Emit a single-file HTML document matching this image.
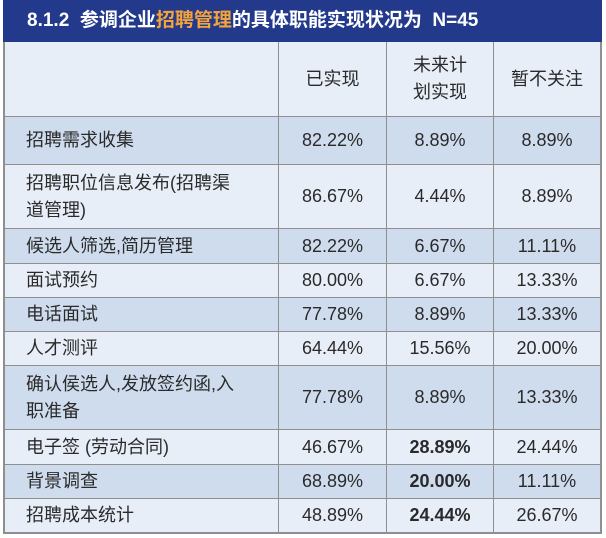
<!DOCTYPE html>
<html><head><meta charset="utf-8"><style>
body{margin:0;width:606px;height:538px;background:#fff;position:relative;overflow:hidden;font-family:"Liberation Sans","Noto Sans CJK SC",sans-serif;color:#2a2a2a}
.t{position:absolute;left:3px;top:0;width:599px;height:42px;background:#233a8c;color:#fff;font-weight:bold;font-size:19px;line-height:42px;box-sizing:border-box;padding-left:24px}
.t span{color:#f4a23a}
.c{position:absolute;box-sizing:border-box;border-right:2px solid #8f8f8f;border-bottom:2px solid #8f8f8f;display:flex;align-items:center;justify-content:center;font-size:18px;line-height:27px;text-align:center}
.l{justify-content:flex-start;text-align:left;padding-left:21px;border-left:2px solid #8f8f8f}
</style></head><body>
<div class="t">8.1.2&nbsp; 参调企业<span>招聘管理</span>的具体职能实现状况为&nbsp; N=45</div>
<div id="g"></div>
<script>
var rows=[["","已实现","未来计<br>划实现","暂不关注",42,117,0],
["招聘需求收集","82.22%","8.89%","8.89%",117,165,1],
["招聘职位信息发布(招聘渠<br>道管理)","86.67%","4.44%","8.89%",165,229,0],
["候选人筛选,简历管理","82.22%","6.67%","11.11%",229,264,1],
["面试预约","80.00%","6.67%","13.33%",264,298,0],
["电话面试","77.78%","8.89%","13.33%",298,332,1],
["人才测评","64.44%","15.56%","20.00%",332,366,0],
["确认侯选人,发放签约函,入<br>职准备","77.78%","8.89%","13.33%",366,430,1],
["电子签 (劳动合同)","46.67%","<b>28.89%</b>","24.44%",430,465,0],
["背景调查","68.89%","<b>20.00%</b>","11.11%",465,499,1],
["招聘成本统计","48.89%","<b>24.44%</b>","26.67%",499,533,0]];
var xs=[3,279,387,494,602],h="";
rows.forEach(function(r){var bg=r[6]?"#cfdcee":"#e8eef8";
for(var i=0;i<4;i++){h+='<div class="c'+(i==0?' l':'')+'" style="left:'+xs[i]+'px;top:'+r[4]+'px;width:'+(xs[i+1]-xs[i]+(i<3?1:0))+'px;height:'+(r[5]-r[4]+1)+'px;background:'+bg+'">'+r[i]+'</div>';}});
document.getElementById("g").innerHTML=h;
</script>
</body></html>
